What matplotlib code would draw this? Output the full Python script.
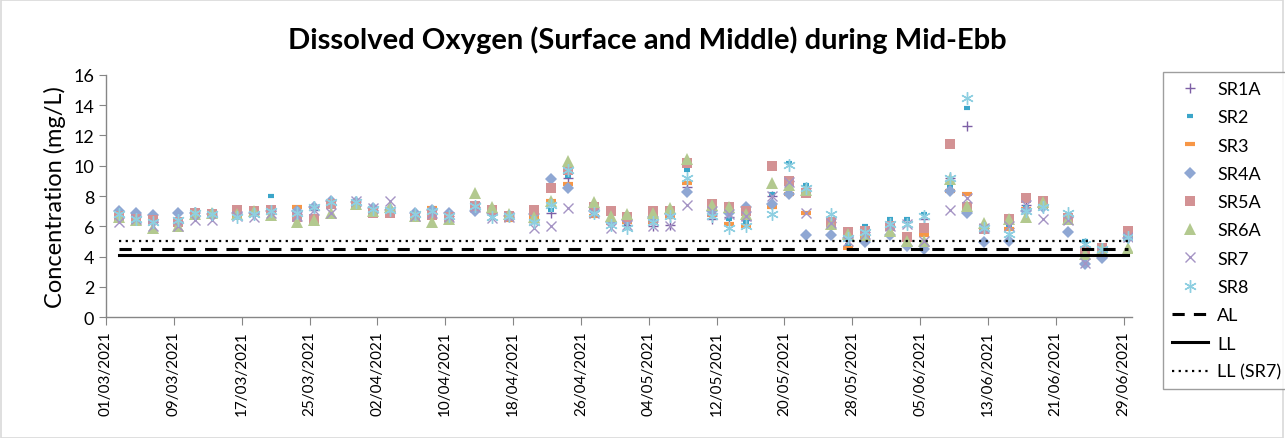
import matplotlib
matplotlib.use("Agg")
import matplotlib.pyplot as plt
import matplotlib.dates as mdates
from matplotlib.patches import Rectangle
import pandas as pd

plt.rcParams['font.family'] = ['Lato', 'DejaVu Sans']

# Datas de amostragem (Ter/Qui/Sáb)
datas = [
    "2021-03-02", "2021-03-04", "2021-03-06", "2021-03-09", "2021-03-11", "2021-03-13",
    "2021-03-16", "2021-03-18", "2021-03-20", "2021-03-23", "2021-03-25", "2021-03-27",
    "2021-03-30", "2021-04-01", "2021-04-03", "2021-04-06", "2021-04-08", "2021-04-10",
    "2021-04-13", "2021-04-15", "2021-04-17", "2021-04-20", "2021-04-22", "2021-04-24",
    "2021-04-27", "2021-04-29", "2021-05-01", "2021-05-04", "2021-05-06", "2021-05-08",
    "2021-05-11", "2021-05-13", "2021-05-15", "2021-05-18", "2021-05-20", "2021-05-22",
    "2021-05-25", "2021-05-27", "2021-05-29", "2021-06-01", "2021-06-03", "2021-06-05",
    "2021-06-08", "2021-06-10", "2021-06-12", "2021-06-15", "2021-06-17", "2021-06-19",
    "2021-06-22", "2021-06-24", "2021-06-26", "2021-06-29",
]

sr1a = [6.6, 6.6, 6.3, 6.3, 6.7, 6.7, 6.8, 6.8, 7.0, 6.8, 7.1, 7.5, 7.5, 7.1, 7.0, 6.7, 6.9, 6.7,
        7.3, 6.8, 6.6, 6.4, 6.9, 9.2, 7.0, 6.2, 6.1, 6.0, 6.1, 8.6, 6.5, 6.6, 6.4, 8.0, 9.0, 8.5,
        6.3, 5.1, 5.6, 6.0, 6.3, 6.5, 9.2, 12.6, 5.9, 5.9, 7.4, 7.4, 6.6, 4.6, 4.4, 5.3]
sr2 = [6.7, 6.7, 6.2, 6.4, 6.8, 6.8, 6.7, 6.9, 8.0, 6.9, 7.2, 7.6, 7.5, 7.0, 7.0, 6.8, 7.0, 6.7,
       7.3, 6.8, 6.5, 6.3, 7.1, 9.3, 6.9, 6.3, 6.2, 6.5, 6.6, 9.7, 6.8, 6.5, 6.3, 8.1, 10.2, 8.7,
       6.4, 4.8, 6.0, 6.5, 6.5, 6.8, 8.6, 13.8, 5.9, 6.0, 7.3, 7.4, 6.7, 5.0, 4.5, 5.5]
sr3 = [6.7, 6.6, 6.3, 6.4, 6.8, 6.8, 6.7, 6.9, 6.9, 7.3, 7.3, 7.5, 7.5, 7.1, 7.0, 6.7, 7.2, 6.7,
       7.3, 6.9, 6.4, 6.6, 7.7, 8.8, 6.65, 6.2, 6.3, 6.3, 6.6, 8.85, 6.75, 6.15, 6.0, 7.25, 8.1, 6.9,
       6.3, 4.6, 5.3, 5.9, 5.4, 5.45, 8.35, 8.1, 5.9, 5.8, 7.15, 7.3, 6.5, 4.3, 4.4, 5.2]
sr4a = [7.0, 6.9, 6.75, 6.9, 6.9, 6.8, 6.9, 6.9, 7.0, 7.0, 7.25, 7.7, 7.6, 7.2, 7.1, 6.9, 7.1, 6.9,
        7.0, 6.9, 6.7, 6.8, 9.15, 8.5, 7.0, 6.3, 6.4, 6.6, 6.8, 8.25, 7.0, 6.9, 7.3, 7.5, 8.1, 5.4,
        5.4, 5.2, 4.95, 5.4, 4.7, 4.5, 8.3, 6.9, 4.95, 5.0, 7.0, 7.3, 5.65, 3.5, 3.9, 5.2]
sr5a = [6.7, 6.5, 6.4, 6.3, 6.9, 6.8, 7.1, 7.0, 7.1, 6.6, 6.5, 7.5, 7.4, 6.85, 6.85, 6.6, 6.75, 6.6,
        7.35, 7.05, 6.7, 7.1, 8.5, 9.7, 7.3, 7.0, 6.6, 7.0, 7.0, 10.2, 7.5, 7.3, 7.0, 10.0, 9.0, 8.2,
        6.3, 5.6, 5.7, 6.05, 5.3, 5.9, 11.4, 7.3, 5.8, 6.5, 7.9, 7.7, 6.55, 4.4, 4.6, 5.7]
sr6a = [6.6, 6.4, 5.9, 6.0, 6.8, 6.9, 6.8, 7.0, 6.75, 6.3, 6.4, 6.9, 7.5, 7.0, 7.3, 6.7, 6.3, 6.5,
        8.2, 7.25, 6.8, 6.6, 7.7, 10.3, 7.6, 6.7, 6.8, 6.9, 7.2, 10.45, 7.4, 7.25, 6.8, 8.85, 8.7, 8.4,
        6.15, 5.5, 5.4, 5.7, 5.05, 5.05, 9.1, 7.35, 6.25, 6.5, 6.6, 7.6, 6.5, 4.2, 4.5, 4.6]
sr7 = [6.3, 6.5, 6.0, 6.0, 6.4, 6.4, 6.7, 6.6, 6.9, 6.7, 7.1, 6.9, 7.7, 7.2, 7.7, 6.7, 6.9, 6.6,
       7.3, 6.55, 6.6, 5.9, 6.0, 7.2, 6.9, 5.9, 6.1, 6.0, 6.0, 7.4, 7.0, 6.8, 6.7, 8.0, 8.9, 6.85,
       6.2, 5.0, 5.5, 6.05, 6.15, 5.0, 7.1, 7.9, 5.9, 6.0, 7.4, 6.5, 6.4, 3.6, 4.3, 5.3]
sr8 = [6.8, 6.5, 6.3, 6.4, 6.9, 6.8, 6.6, 6.8, 7.0, 6.9, 7.3, 7.6, 7.6, 7.15, 7.1, 6.8, 7.0, 6.7,
       7.35, 6.6, 6.7, 6.3, 7.4, 9.7, 6.9, 6.1, 5.9, 6.3, 6.7, 9.2, 6.7, 5.9, 6.05, 6.8, 10.05, 8.55,
       6.8, 5.2, 5.6, 6.15, 6.15, 6.7, 9.2, 14.45, 5.9, 5.5, 7.0, 7.25, 6.9, 4.85, 4.5, 5.3]

al = 4.5
ll = 4.1
ll_sr7 = 5.0

# Excel coloca cada data no meio do seu dia
x = pd.to_datetime(datas) + pd.Timedelta(hours=12)

fig = plt.figure(figsize=(12.85, 4.39), dpi=100)
ax = fig.add_axes([106 / 1285, 1 - 318.3 / 439, (1132 - 106) / 1285, (318.3 - 75.7) / 439])

series = [
    ("SR1A", sr1a, dict(marker='+', color='#7D5FA5', ms=7, mew=1.0)),
    ("SR2", sr2, dict(marker='_', color='#3BA5C9', ms=4, mew=3.0)),
    ("SR3", sr3, dict(marker='_', color='#F79646', ms=7, mew=3.0)),
    ("SR4A", sr4a, dict(marker='D', color='#8FA7D3', ms=6.5, mew=0)),
    ("SR5A", sr5a, dict(marker='s', color='#D39294', ms=7.5, mew=0)),
    ("SR6A", sr6a, dict(marker='^', color='#B3C98F', ms=8, mew=0)),
    ("SR7", sr7, dict(marker='x', color='#A594C4', ms=7, mew=1.0)),
    ("SR8", sr8, dict(marker=(6, 2, 0), color='#8ECFE1', ms=9, mew=1.0)),
]
for nome, vals, st in series:
    ax.plot(x, vals, linestyle='none', label=nome, **st)

ax.plot(x, [al] * len(x), color='black', lw=2.2, dashes=(4, 3), label='AL')
ax.plot(x, [ll] * len(x), color='black', lw=2.2, label='LL')
ax.plot(x, [ll_sr7] * len(x), color='black', lw=1.6, dashes=(1, 2), label='LL (SR7)')

ax.set_ylim(0, 16)
ax.set_yticks(range(0, 17, 2))
ax.set_xlim(pd.Timestamp('2021-03-01'), pd.Timestamp('2021-06-30'))
ax.set_xticks(pd.date_range('2021-03-01', '2021-06-29', freq='8D'))
ax.xaxis.set_major_formatter(mdates.DateFormatter('%d/%m/%Y'))
plt.setp(ax.get_xticklabels(), rotation=90)

for s in ['top', 'right']:
    ax.spines[s].set_visible(False)
for s in ['left', 'bottom']:
    ax.spines[s].set_color('#868686')
    ax.spines[s].set_linewidth(1.0)
ax.tick_params(axis='x', length=6, color='#868686', labelsize=11, direction='out')
ax.tick_params(axis='y', length=5, color='#868686', labelsize=13, direction='out')

ax.set_ylabel('Concentration (mg/L)', fontsize=17, labelpad=5)
fig.text(647 / 1285, 1 - 40 / 439, 'Dissolved Oxygen (Surface and Middle) during Mid-Ebb',
         ha='center', va='center', fontsize=21, fontweight='bold')

leg = fig.legend(loc='upper left', bbox_to_anchor=(1163 / 1285, 1 - 73 / 439),
                 fontsize=13, frameon=True, fancybox=False, edgecolor='#868686',
                 handlelength=2.0, labelspacing=0.68, borderaxespad=0, handletextpad=0.5,
                 borderpad=0.5)
leg.get_frame().set_linewidth(1.0)

# borda do gráfico
fig.patches.append(Rectangle((0.0008, 0.001), 0.998, 0.997, transform=fig.transFigure,
                             fill=False, edgecolor='#D9D9D9', lw=1.2))

fig.savefig('out.png', dpi=100)
